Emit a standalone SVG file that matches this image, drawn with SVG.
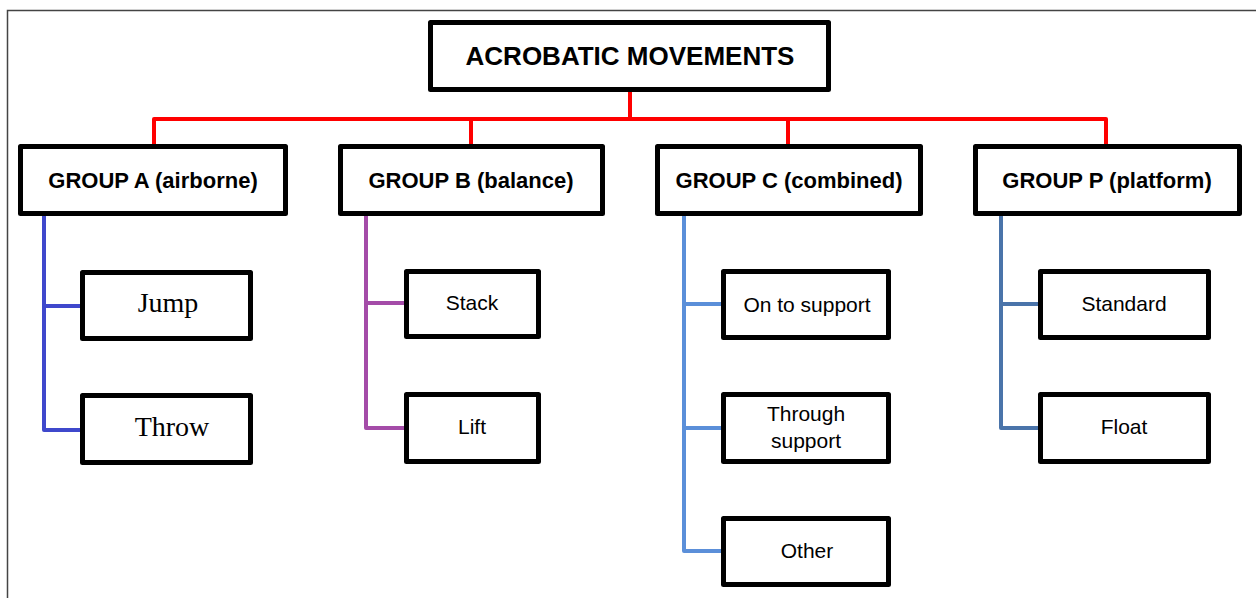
<svg xmlns="http://www.w3.org/2000/svg" width="1256" height="598" viewBox="0 0 1256 598">
<style>
.box{fill:#fff;stroke:#000;stroke-width:5;stroke-linejoin:round}
.t{font-family:"Liberation Sans",Arial,sans-serif;text-anchor:middle;fill:#000}
.b{font-weight:bold;font-size:22px}
.r{font-size:21px}
.s{font-family:"Liberation Serif","Times New Roman",serif;font-size:28px;text-anchor:middle;fill:#000}
.c{fill:none;stroke-width:4;stroke-linejoin:round}
</style>
<rect x="0" y="0" width="1256" height="598" fill="#fff"/>
<path d="M7.5 598 V10.5 H1256" fill="none" stroke="#444" stroke-width="1.5"/>
<g id="connectors">
<path class="c" stroke="#ff0000" d="M630 92 V119 M154 146 V119 H1106 V146 M471 119 V146 M788 119 V146"/>
<path class="c" stroke="#3f48cc" d="M44 216 V430 H82 M44 306 H82"/>
<path class="c" stroke="#a44ca8" d="M366 216 V428 H406 M366 303 H406"/>
<path class="c" stroke="#5b8fd9" d="M684 216 V551 H723 M684 304 H723 M684 428 H723"/>
<path class="c" stroke="#4a74aa" d="M1001 216 V428 H1040 M1001 304 H1040"/>
</g>
<g id="root"><rect class="box" x="430.5" y="22.5" width="398" height="67"/><text class="t b" x="630" y="65" style="font-size:26px">ACROBATIC MOVEMENTS</text></g>
<g id="groupA"><rect class="box" x="20.5" y="146.5" width="265" height="67"/><text class="t b" x="153" y="188">GROUP A (airborne)</text></g>
<g id="groupB"><rect class="box" x="340.5" y="146.5" width="262" height="67"/><text class="t b" x="471" y="188">GROUP B (balance)</text></g>
<g id="groupC"><rect class="box" x="657.5" y="146.5" width="263" height="67"/><text class="t b" x="789" y="188">GROUP C (combined)</text></g>
<g id="groupP"><rect class="box" x="975.5" y="146.5" width="264" height="67"/><text class="t b" x="1107" y="188">GROUP P (platform)</text></g>
<g id="jump"><rect class="box" x="82.5" y="272.5" width="168" height="66"/><text class="s" x="168" y="312">Jump</text></g>
<g id="throw"><rect class="box" x="82.5" y="395.5" width="168" height="67"/><text class="s" x="172" y="436">Throw</text></g>
<g id="stack"><rect class="box" x="406.5" y="271.5" width="132" height="65"/><text class="t r" x="472" y="310">Stack</text></g>
<g id="lift"><rect class="box" x="406.5" y="394.5" width="132" height="67"/><text class="t r" x="472" y="434">Lift</text></g>
<g id="ontosupport"><rect class="box" x="723.5" y="271.5" width="165" height="66"/><text class="t r" x="807" y="312">On to support</text></g>
<g id="throughsupport"><rect class="box" x="723.5" y="394.5" width="165" height="67"/><text class="t r" x="806" y="421">Through</text><text class="t r" x="806" y="448">support</text></g>
<g id="other"><rect class="box" x="723.5" y="518.5" width="165" height="66"/><text class="t r" x="807" y="558">Other</text></g>
<g id="standard"><rect class="box" x="1040.5" y="271.5" width="168" height="66"/><text class="t r" x="1124" y="311">Standard</text></g>
<g id="float"><rect class="box" x="1040.5" y="394.5" width="168" height="67"/><text class="t r" x="1124" y="434">Float</text></g>
</svg>
